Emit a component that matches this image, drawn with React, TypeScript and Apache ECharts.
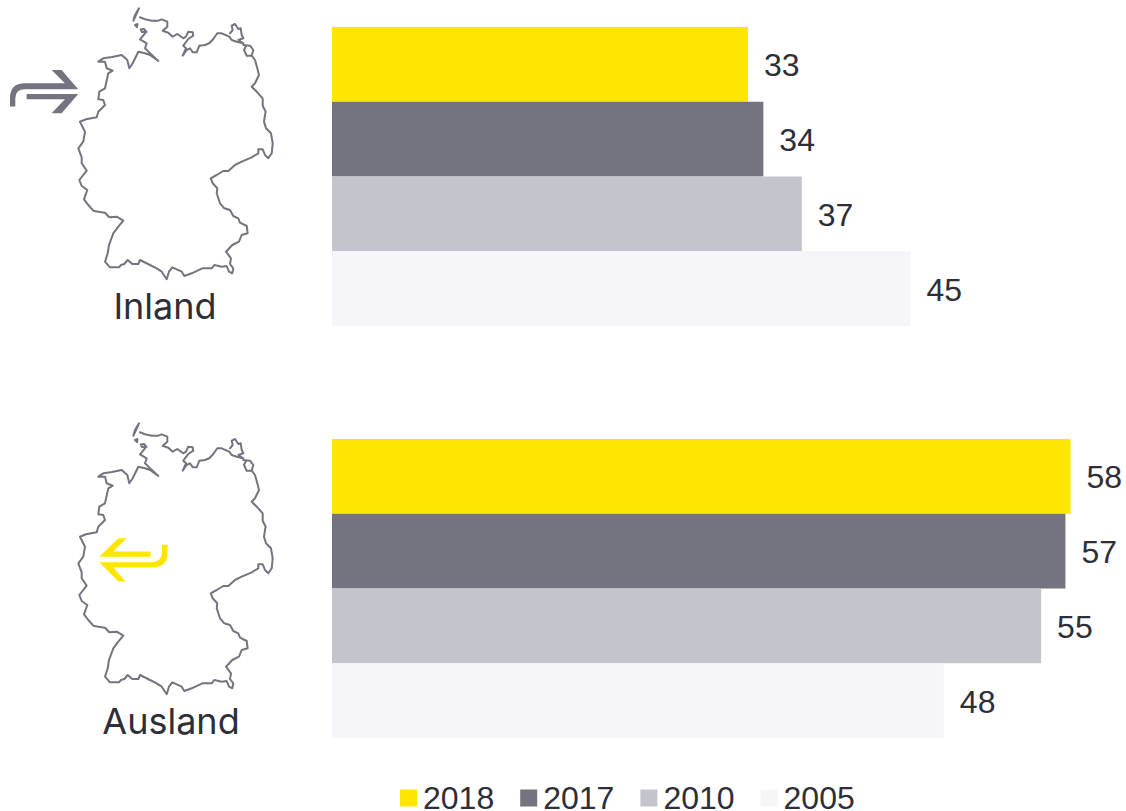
import React, { useEffect, useRef } from "react";
import * as echarts from "echarts";

const years = ["2018", "2017", "2010", "2005"];
const inlandValues = [32.5, 33.7, 36.7, 45.2];
const auslandValues = [57.7, 57.3, 55.4, 47.8];
const yearColors = ["#ffe600", "#747480", "#c4c4cd", "#f6f6fa"];
const groupLabels = ["Inland", "Ausland"];

const mapPath =
  "M139,8.3 L135,15 L133.3,20.7 L136,15 Z M135,25 L137.5,24 L137,27 Z M140.7,29.5 L144,29 L146.5,32 L142,32 Z " +
  "M140,17.3 L145,19.3 L151.7,20.7 L158.3,20.7 L161.7,19.3 L167.3,21.7 L167.3,26.7 L162.7,30.7 L168.3,32.7 L172.7,36.7 L177.3,34 L183.3,38.3 L186,36.7 L188.3,31.7 L192.7,32.3 L193.3,35.7 L188.3,39 L183.3,45.7 L186,48.3 L182.7,55.7 L186.7,50 L190,48.3 L192.7,52.3 L196.7,52.3 L199.3,45.7 L205,45 L209.3,43.3 L213.3,39 L217.3,33.3 L221.7,33.3 L229.3,36.7 L231.7,40 L236.7,41.7 L243.3,43.3 " +
  "M230,33.3 L232.7,30 L231.7,25.7 L235,24 L238.3,29 L240.7,28.3 L241.7,35 L243.3,38.3 L238.3,40 L243.3,43.3 L243.3,45 L250,45.7 L253.3,50 L251.7,55.7 L246.7,55.7 L244,50 L246,46 M251.7,55.7 L255,60 L257.3,68.3 L259,75 L255,83.3 L251.7,86.7 L257.3,92.3 L262.7,98.3 L262.7,105.7 L265.7,111.7 L265,115 L264,121.7 L266,128.3 L271,133.3 L272.7,143.3 L271.7,153.3 L268.3,158.3 L265,155 L262.7,149.3 L258.3,149.3 L258.3,153.3 L251.7,157.3 L241.7,161.7 L235,165 L228.3,171 L223.3,171 L216.7,175 L210.7,178.3 L212.7,183.3 L217.3,188.3 L216.7,193.3 L220,203.3 L224.3,208.3 L230,210 L233.3,216 L238.3,218.3 L240,222.7 L246.7,226 L247.7,233.3 L241.7,235 L239,241.7 L232.3,245 L226,251.7 L231,258.3 L230,264 L233.3,268.3 L232.3,273.3 L229,271.7 L226.7,266 L221.7,266.7 L214.3,265 L211.7,268.3 L202.3,268.3 L191.7,273.3 L184.3,276 L181.7,271.7 L172.3,267.3 L169,271.7 L166.7,279.3 L161.7,271.7 L156.7,268.3 L150,265 L140,260 L138.3,264 L132.3,264 L127.7,260 L124.3,264 L121,265 L119,267.3 L110,267.3 L105,261.7 L107.7,253.3 L109,245 L113.3,233.3 L117.7,227.3 L123.3,220.7 L116.7,216.7 L109.3,217.3 L105,212.7 L98.3,211.7 L93.3,210.7 L88.3,205 L84,199.3 L87.3,190 L81.7,186 L79.3,180 L86.7,170.7 L81.7,163.3 L81.7,157.3 L78.3,148.3 L83.3,141.7 L85,131.7 L80,121.7 L86,119.3 L96.7,117.3 L98.3,111.7 L105,105 L103.3,100 L98.3,99.3 L99.3,91.7 L105,88.3 L108.3,73.3 L112.7,70.7 L106.7,68.3 L105,61.7 L98.3,61.7 L103.3,58.3 L112,57 L121.7,55 L127.3,60 L129.3,68.3 L132.7,63.3 L138.3,51.7 L145,53.3 L150,55 L158.3,61 L150,53.3 L145,48.3 L146.7,43.3 L140,39.3 L145,33.3";

const arrowRightPath =
  "M30,320 L30,295 Q30,250 75,250 L195,250 L155,210 L185,210 L235,268 L75,268 Q46,268 46,295 L46,320 Z " +
  "M80,282 L235,282 L185,340 L155,340 L195,298 L80,298 Z";
const arrowLeftPath =
  "M175,385 L200,385 L160,425 L272,425 L272,441 L118,441 Z " +
  "M118,457 L272,457 Q306,457 306,425 L306,405 L323,405 L323,430 Q323,473 275,473 L160,473 L197,515 L175,515 Z";

echarts.graphic.registerShape("germanyMap", echarts.graphic.extendPath(mapPath, {}) as any);
echarts.graphic.registerShape("arrowRight", echarts.graphic.extendPath(arrowRightPath, {}) as any);
echarts.graphic.registerShape("arrowLeft", echarts.graphic.extendPath(arrowLeftPath, {}) as any);

function barSeries(values: number[], gridIndex: number) {
  return years.map((year, i) => ({
    type: "bar",
    name: year,
    xAxisIndex: gridIndex,
    yAxisIndex: gridIndex,
    data: [values[i]],
    barGap: 0,
    barCategoryGap: 0,
    itemStyle: { color: yearColors[i] },
    label: {
      show: true,
      position: "right",
      distance: 16,
      offset: [0, 1],
      formatter: (p: any) => String(Math.round(p.value)),
      fontFamily: "Liberation Sans",
      fontSize: 32,
      color: "#2e2e38",
    },
  }));
}

export default function App() {
  const ref = useRef<HTMLDivElement>(null);
  useEffect(() => {
    const chart = echarts.init(ref.current!, undefined, { renderer: "svg" });
    const mapStyle = { fill: "none", stroke: "#747480", lineWidth: 2, lineJoin: "round", lineCap: "round" };
    const scale = { scaleX: 1 / 3, scaleY: 1 / 3 };
    chart.setOption({
      animation: false,
      backgroundColor: "#ffffff",
      grid: [
        { left: 332, top: 27, width: 768, height: 299 },
        { left: 332, top: 439, width: 768, height: 299 },
      ],
      xAxis: [0, 1].map((g) => ({ type: "value", gridIndex: g, min: 0, max: 60, show: false })),
      yAxis: [0, 1].map((g) => ({
        type: "category",
        gridIndex: g,
        inverse: true,
        data: [groupLabels[g]],
        show: false,
      })),
      legend: {
        left: 400,
        top: 782,
        padding: 0,
        itemWidth: 17,
        itemHeight: 17,
        itemGap: 26,
        icon: "rect",
        selectedMode: false,
        data: years,
        textStyle: {
          fontFamily: "Liberation Sans",
          fontSize: 32,
          lineHeight: 28,
          color: "#2e2e38",
          padding: [0, 0, 0, 1],
        },
      },
      series: [...barSeries(inlandValues, 0), ...barSeries(auslandValues, 1)],
      graphic: [
        { type: "germanyMap", x: 0, y: 0, style: mapStyle },
        { type: "germanyMap", x: 0, y: 415, style: mapStyle },
        { type: "arrowRight", x: 0, y: 0, ...scale, style: { fill: "#747480" } },
        { type: "arrowLeft", x: 60, y: 410, ...scale, style: { fill: "#ffe600" } },
        {
          type: "text",
          x: 165,
          y: 306,
          style: {
            text: groupLabels[0],
            fontFamily: "Inter",
            fontSize: 36,
            fill: "#2e2e38",
            align: "center",
            verticalAlign: "middle",
          },
        },
        {
          type: "text",
          x: 171,
          y: 721,
          style: {
            text: groupLabels[1],
            fontFamily: "Inter",
            fontSize: 36,
            fill: "#2e2e38",
            align: "center",
            verticalAlign: "middle",
          },
        },
      ],
    });
    return () => chart.dispose();
  }, []);
  return <div ref={ref} style={{ position: "absolute", left: 0, top: 0, width: 1126, height: 811 }} />;
}
